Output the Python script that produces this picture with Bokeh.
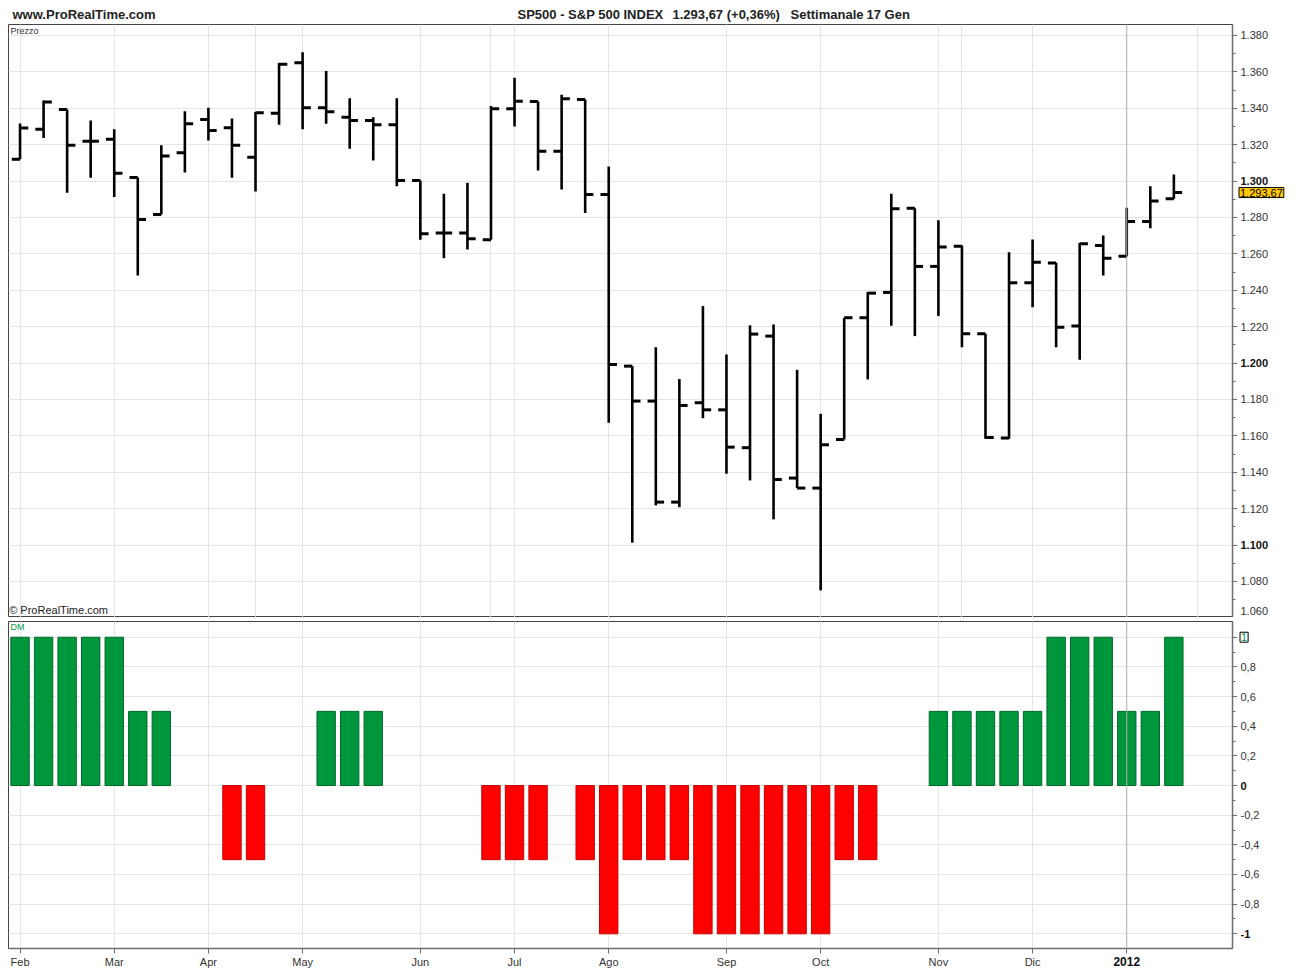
from bokeh.plotting import figure
from bokeh.models import ColumnDataSource, FixedTicker, Range1d, Label, Span, Grid
from bokeh.layouts import column, row
from bokeh.transform import dodge
from bokeh.core.properties import value
from bokeh.embed import file_html
from bokeh.resources import INLINE

# ---------------- data (weekly S&P 500, Feb 2011 - Jan 2012) ----------------
week = list(range(50))
opens = [1311.9, 1328.5, 1339.3, 1321.8, 1322.9, 1302.0, 1281.6, 1315.5, 1333.8, 1329.3,
         1313.1, 1337.3, 1365.0, 1340.3, 1335.1, 1333.3, 1330.9, 1300.3, 1271.4, 1271.4,
         1267.7, 1339.7, 1343.7, 1316.3, 1344.8, 1292.6, 1198.3, 1179.1, 1123.6, 1178.2,
         1174.3, 1153.5, 1214.8, 1136.8, 1131.3, 1158.0, 1224.9, 1238.8, 1285.1, 1253.1,
         1264.1, 1216.1, 1158.8, 1244.1, 1254.9, 1220.3, 1264.6, 1258.7, 1277.8, 1290.3]
highs = [1331.6, 1344.3, 1339.3, 1333.3, 1328.5, 1302.0, 1319.6, 1338.4, 1340.3, 1334.4,
         1337.9, 1364.8, 1370.8, 1360.4, 1345.5, 1335.1, 1345.5, 1300.3, 1293.0, 1299.1,
         1341.2, 1356.8, 1343.7, 1347.4, 1344.8, 1308.0, 1198.3, 1208.7, 1191.2, 1231.3,
         1204.7, 1220.7, 1221.2, 1196.3, 1172.1, 1224.9, 1239.0, 1293.0, 1285.1, 1278.4,
         1264.6, 1216.1, 1260.9, 1267.9, 1255.1, 1265.9, 1270.1, 1285.3, 1297.2, 1303.6]
lows = [1311.9, 1323.6, 1293.6, 1301.8, 1291.2, 1248.1, 1281.6, 1304.7, 1322.3, 1301.8,
        1294.3, 1330.9, 1328.4, 1331.5, 1317.7, 1311.3, 1297.2, 1267.7, 1257.6, 1262.4,
        1267.7, 1330.0, 1305.8, 1295.4, 1282.4, 1167.2, 1101.3, 1121.8, 1120.8, 1169.7,
        1139.2, 1135.5, 1114.1, 1131.3, 1075.1, 1158.0, 1191.0, 1220.5, 1214.8, 1225.8,
        1208.7, 1158.4, 1158.4, 1230.7, 1208.7, 1201.8, 1248.1, 1258.6, 1274.1, 1290.3]
closes = [1329.1, 1343.4, 1319.6, 1321.8, 1304.3, 1278.9, 1313.7, 1331.5, 1327.8, 1319.6,
          1337.5, 1364.1, 1340.3, 1338.1, 1333.3, 1330.9, 1300.3, 1271.0, 1271.4, 1268.3,
          1339.7, 1343.9, 1316.3, 1345.2, 1292.6, 1199.2, 1179.1, 1123.6, 1176.7, 1174.3,
          1153.8, 1215.9, 1136.0, 1131.3, 1155.1, 1224.9, 1238.4, 1284.8, 1253.1, 1263.7,
          1216.1, 1159.1, 1244.1, 1255.4, 1219.7, 1265.5, 1257.6, 1277.8, 1289.0, 1293.67]
dm = [1, 1, 1, 1, 1, 0.5, 0.5, 0, 0, -0.5,
      -0.5, 0, 0, 0.5, 0.5, 0.5, 0, 0, 0, 0,
      -0.5, -0.5, -0.5, 0, -0.5, -1, -0.5, -0.5, -0.5, -1,
      -1, -1, -1, -1, -1, -0.5, -0.5, 0, 0, 0.5,
      0.5, 0.5, 0.5, 0.5, 1, 1, 1, 0.5, 0.5, 1]

month_pos = [0, 4, 8, 12, 17, 21, 25, 30, 34, 39, 43, 47]
month_labels = ["Feb", "Mar", "Apr", "May", "Jun", "Jul", "Ago", "Sep", "Oct", "Nov", "Dic", "2012"]
price_ticks = list(range(1060, 1381, 20))
price_bold = [1100, 1200, 1300]
dm_ticks = [-1, -0.8, -0.6, -0.4, -0.2, 0, 0.2, 0.4, 0.6, 0.8, 1]
dm_labels = ["-1", "-0,8", "-0,6", "-0,4", "-0,2", "0", "0,2", "0,4", "0,6", "0,8", "1"]
last_price = 1293.67
last_price_text = "1.293,67"
site_text = "www.ProRealTime.com"
title_parts = ["SP500 - S&P 500 INDEX", "1.293,67 (+0,36%)", "Settimanale", "17 Gen"]

FONT = "Liberation Sans"
GRID = "#e6e6e6"
AX = "#6e6e6e"
TXT = "#333333"
W_MAIN, W_SIDE = 1237, 57

x_range = Range1d(-0.49, 51.49)
price_range = Range1d(1060.2, 1386.0)
dm_range = Range1d(-1.099, 1.106)


def bare(fig):
    fig.background_fill_color = "white"
    fig.border_fill_color = "white"
    fig.outline_line_color = None
    fig.xgrid.visible = False
    fig.ygrid.visible = False
    return fig


def style_axis(a, tick_out):
    a.axis_line_color = AX
    a.axis_line_width = 1.5
    a.major_tick_line_color = AX
    a.minor_tick_line_color = AX
    a.major_tick_out = tick_out
    a.major_tick_in = 0
    a.minor_tick_out = 3
    a.minor_tick_in = 0
    a.major_label_standoff = 0
    a.major_label_text_font_size = "0px"


# ---------------- header (x in page pixels) ----------------
h = bare(figure(width=W_MAIN + W_SIDE, height=24, x_range=Range1d(8, W_MAIN + W_SIDE - 5),
                y_range=Range1d(24, 0), output_backend="svg", toolbar_location=None,
                x_axis_location=None, y_axis_location=None, min_border_left=8,
                min_border_right=5, min_border_top=0, min_border_bottom=0))
h.text(x=[12], y=[14], text=[site_text], text_font=value(FONT), text_font_size="13px",
       text_font_style="bold", text_color="#222222", text_baseline="middle")
h.text(x=[517, 672, 790, 866], y=[14] * 4, text=title_parts, text_font=value(FONT),
       text_font_size="13px", text_font_style="bold", text_color="#222222",
       text_baseline="middle")

# ---------------- price panel ----------------
p = figure(width=W_MAIN, height=593, x_range=x_range, y_range=price_range,
           output_backend="svg", toolbar_location=None, y_axis_location="right",
           x_axis_location=None, min_border_left=8, min_border_right=5,
           min_border_top=0, min_border_bottom=0)
p.background_fill_color = "white"
p.border_fill_color = "white"
p.outline_line_color = "#444444"

src = ColumnDataSource(dict(x=week, o=opens, h=highs, l=lows, c=closes))
p.add_layout(Grid(dimension=0, ticker=FixedTicker(ticks=month_pos),
                  grid_line_color=GRID, grid_line_width=1))
p.ygrid.grid_line_color = GRID
p.add_layout(Span(location=47, dimension="height", line_color="#b4b4b4", line_width=1))

p.segment(x0="x", y0="l", x1="x", y1="h", source=src, line_color="black", line_width=2.6)
p.segment(x0=dodge("x", -0.35, range=x_range), y0="o", x1="x", y1="o", source=src,
          line_color="black", line_width=3)
p.segment(x0="x", y0="c", x1=dodge("x", 0.35, range=x_range), y1="c", source=src,
          line_color="black", line_width=3)

ya = p.yaxis[0]
ya.ticker = FixedTicker(ticks=price_ticks, minor_ticks=list(range(1070, 1390, 20)))
ya.major_label_overrides = {t: f"{t/1000:.3f}" for t in price_ticks}
style_axis(ya, 5)

p.add_layout(Label(x=-0.40, y=1382.2, text="Prezzo", text_font=FONT, text_font_size="9px",
                   text_color=TXT, text_baseline="middle"))
p.add_layout(Label(x=-0.46, y=1064.1, text="© ProRealTime.com", text_font=FONT,
                   text_font_size="11px", text_color="#222222", text_baseline="middle"))

# price labels strip (right of axis)
ps = bare(figure(width=W_SIDE, height=593, x_range=Range1d(0, W_SIDE), y_range=price_range,
                 output_backend="svg", toolbar_location=None, x_axis_location=None,
                 y_axis_location=None, min_border_left=0, min_border_right=0,
                 min_border_top=0, min_border_bottom=0))
inner = price_ticks[1:]
ps_src = ColumnDataSource(dict(
    y=inner, t=[f"{v/1000:.3f}" for v in inner],
    st=["bold" if v in price_bold else "normal" for v in inner],
    col=["#111111" if v in price_bold else TXT for v in inner]))
ps.text(x=3, y="y", text="t", source=ps_src, text_font=value(FONT), text_font_size="11px",
        text_font_style="st", text_color="col", text_baseline="middle")
# lowest label is lifted to stay inside the panel, as in the original
ps.text(x=[3], y=[price_ticks[0] + 3.5], text=[f"{price_ticks[0]/1000:.3f}"],
        text_font=value(FONT), text_font_size="11px", text_color=TXT, text_baseline="middle")
ps.add_layout(Label(x=1.5, y=last_price, text=last_price_text, text_font=FONT,
                    text_font_size="11px", text_color="black", text_baseline="middle",
                    background_fill_color="#FFC800", border_line_color="black",
                    border_line_width=1, padding=1))

# ---------------- DM panel ----------------
q = figure(width=W_MAIN, height=337, x_range=x_range, y_range=dm_range,
           output_backend="svg", toolbar_location=None, y_axis_location="right",
           min_border_left=8, min_border_right=5, min_border_top=4, min_border_bottom=6)
q.background_fill_color = "white"
q.border_fill_color = "white"
q.outline_line_color = "#444444"

nz = [i for i in week if dm[i] != 0]
dsrc = ColumnDataSource(dict(
    x=[week[i] for i in nz], v=[dm[i] for i in nz],
    fill=["#00963C" if dm[i] > 0 else "#FF0000" for i in nz],
    edge=["#006A2A" if dm[i] > 0 else "#C80000" for i in nz]))
q.vbar(x="x", top="v", bottom=0, width=0.78, source=dsrc, fill_color="fill",
       line_color="edge", line_width=1)

q.xgrid.ticker = FixedTicker(ticks=month_pos)
q.xgrid.grid_line_color = GRID
q.ygrid.grid_line_color = GRID
q.add_layout(Span(location=47, dimension="height", line_color="#b4b4b4", line_width=1))

qa = q.yaxis[0]
qa.ticker = FixedTicker(ticks=dm_ticks, minor_ticks=[-0.9, -0.7, -0.5, -0.3, -0.1,
                                                      0.1, 0.3, 0.5, 0.7, 0.9])
qa.major_label_overrides = {t: lab for t, lab in zip(dm_ticks, dm_labels)}
style_axis(qa, 5)
xa = q.xaxis[0]
xa.ticker = FixedTicker(ticks=month_pos)
xa.major_label_overrides = {pos: lab for pos, lab in zip(month_pos, month_labels)}
style_axis(xa, 5)
xa.minor_tick_line_color = None

q.add_layout(Label(x=-0.40, y=1.07, text="DM", text_font=FONT, text_font_size="9px",
                   text_color="#00A040", text_baseline="middle"))

# DM labels strip
qs = bare(figure(width=W_SIDE, height=337, x_range=Range1d(0, W_SIDE), y_range=dm_range,
                 output_backend="svg", toolbar_location=None, x_axis_location=None,
                 y_axis_location=None, min_border_left=0, min_border_right=0,
                 min_border_top=4, min_border_bottom=6))
qs_src = ColumnDataSource(dict(
    y=dm_ticks[:-1], t=dm_labels[:-1],
    st=["bold" if v in (-1, 0) else "normal" for v in dm_ticks[:-1]],
    col=["#111111" if v in (-1, 0) else TXT for v in dm_ticks[:-1]]))
qs.text(x=3, y="y", text="t", source=qs_src, text_font=value(FONT), text_font_size="11px",
        text_font_style="st", text_color="col", text_baseline="middle")
qs.add_layout(Label(x=2.5, y=dm_ticks[-1], text=dm_labels[-1], text_font=FONT,
                    text_font_size="11px", text_color="#009A3C", text_baseline="middle",
                    background_fill_color="white", border_line_color="black",
                    border_line_width=1, padding=1))

# ---------------- month labels strip ----------------
b = bare(figure(width=W_MAIN, height=16, x_range=x_range, y_range=Range1d(16, 0),
                output_backend="svg", toolbar_location=None, x_axis_location=None,
                y_axis_location=None, min_border_left=8, min_border_right=5,
                min_border_top=0, min_border_bottom=0))
b_src = ColumnDataSource(dict(
    x=month_pos, t=month_labels,
    st=["bold" if m == "2012" else "normal" for m in month_labels],
    fs=["12px" if m == "2012" else "11px" for m in month_labels],
    col=["#111111" if m == "2012" else TXT for m in month_labels]))
b.text(x="x", y=7, text="t", source=b_src, text_font=value(FONT), text_font_size="fs",
       text_font_style="st", text_color="col", text_baseline="middle", text_align="center")

layout = column(h, row(p, ps, spacing=0), row(q, qs, spacing=0), b, spacing=0)
open("out.html", "w").write(file_html(layout, INLINE))
